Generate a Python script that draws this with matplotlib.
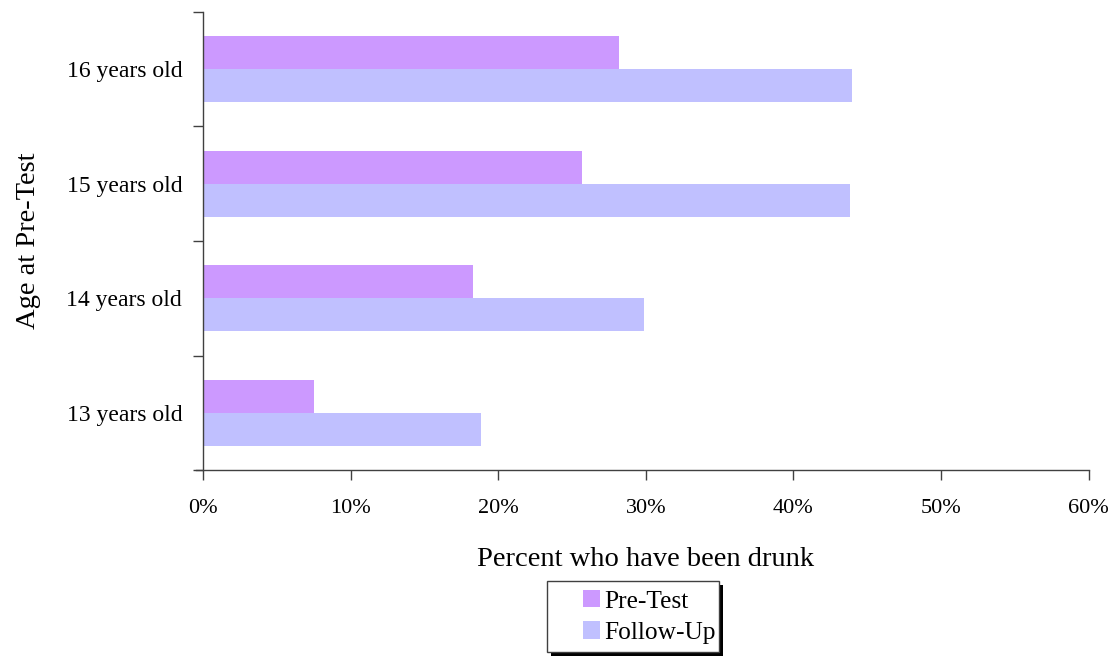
import numpy as np
import matplotlib
matplotlib.use("Agg")
import matplotlib.pyplot as plt
from matplotlib.ticker import FuncFormatter
from matplotlib.patches import Rectangle

# data
ages = ["13 years old", "14 years old", "15 years old", "16 years old"]
pre_test = [7.5, 18.3, 25.7, 28.2]
follow_up = [18.8, 29.9, 43.8, 44.0]

plt.rcParams['font.family'] = ['Liberation Serif', 'DejaVu Serif']

W, H = 1112, 658
fig = plt.figure(figsize=(W / 100, H / 100), dpi=100)
ax = fig.add_axes([0.1826, 0.2857, 0.7964, 0.6961])

y = np.arange(len(ages))
h = 0.29
ax.barh(y + h / 2, pre_test, height=h, color='#CC99FF', label='Pre-Test')
ax.barh(y - h / 2, follow_up, height=h, color='#C0C0FF', label='Follow-Up')

ax.set_xlim(0, 60)
ax.set_ylim(-0.5, len(ages) - 0.5)
ax.set_xticks(np.arange(0, 61, 10))
ax.xaxis.set_major_formatter(FuncFormatter(lambda v, p: f"{v:.0f}%"))

# category labels sit between boundary ticks
ax.set_yticks(np.arange(-0.5, len(ages), 1.0))
ax.set_yticklabels([])
ax.set_yticks(y, minor=True)
ax.set_yticklabels(ages, minor=True)
ax.tick_params(axis='y', which='minor', length=0, pad=15, labelsize=17)
ax.tick_params(axis='y', which='major', length=7, width=1, color='#404040')
ax.tick_params(axis='x', length=7, width=1, color='#404040', pad=14, labelsize=16)

for s in ['top', 'right']:
    ax.spines[s].set_visible(False)
for s in ['left', 'bottom']:
    ax.spines[s].set_color('#404040')
    ax.spines[s].set_linewidth(1)
ax.spines['bottom'].set_bounds(-0.5, 60)

ax.set_xlabel('Percent who have been drunk', fontsize=20.5, labelpad=21)
ax.set_ylabel('Age at Pre-Test', fontsize=20.5, labelpad=18)

# legend frame with a hard black drop shadow
bx, by, bw, bh = 547 / W, 1 - 652 / H, 172 / W, 71 / H
fig.patches.append(Rectangle((bx + 4 / W, by - 4 / H), bw, bh, transform=fig.transFigure,
                             facecolor='black', edgecolor='none', zorder=1))
fig.patches.append(Rectangle((bx, by), bw, bh, transform=fig.transFigure,
                             facecolor='white', edgecolor='#404040', linewidth=1, zorder=2))

leg = fig.legend(loc='center left', bbox_to_anchor=(583 / W, 1 - 617 / H), fontsize=18.3,
                 frameon=False, handlelength=0.68, handleheight=0.68,
                 handletextpad=0.15, labelspacing=0.35, borderpad=0, borderaxespad=0)
leg.set_zorder(3)

fig.savefig('out.png', dpi=100)
